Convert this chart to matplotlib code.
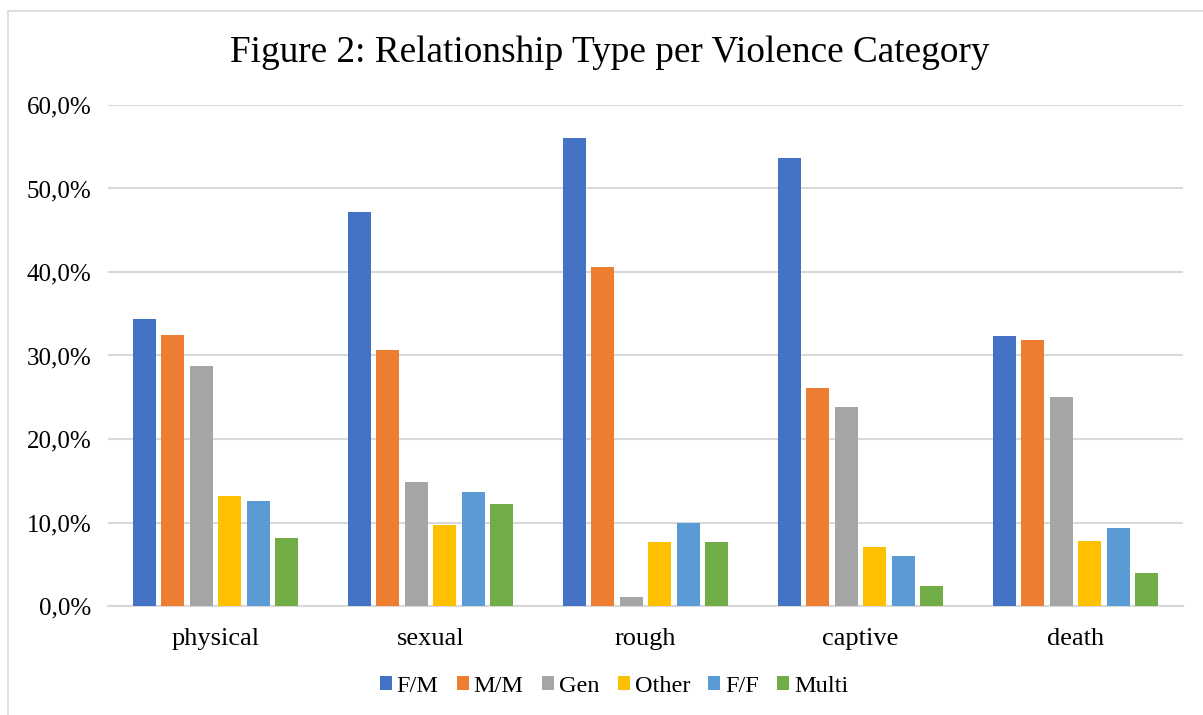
import numpy as np
import matplotlib
matplotlib.use("Agg")
import matplotlib.pyplot as plt
from matplotlib.patches import Rectangle

categories = ["physical", "sexual", "rough", "captive", "death"]
series = ["F/M", "M/M", "Gen", "Other", "F/F", "Multi"]
colors = ["#4472C4", "#ED7D31", "#A5A5A5", "#FFC000", "#5B9BD5", "#70AD47"]

fm = [34.4, 47.2, 56.0, 53.6, 32.3]
mm = [32.4, 30.6, 40.6, 26.1, 31.9]
gen = [28.8, 14.9, 1.1, 23.8, 25.0]
other = [13.2, 9.7, 7.7, 7.1, 7.8]
ff = [12.6, 13.7, 9.9, 6.0, 9.3]
multi = [8.1, 12.2, 7.7, 2.4, 3.9]
values = [fm, mm, gen, other, ff, multi]

yticks = [0, 10, 20, 30, 40, 50, 60]
ytick_labels = ["0,0%", "10,0%", "20,0%", "30,0%", "40,0%", "50,0%", "60,0%"]

W, H = 1203, 715
fig = plt.figure(figsize=(W / 100, H / 100), dpi=100)
plt.rcParams["font.family"] = ["Liberation Serif", "DejaVu Serif"]

# chart area border (cut off at right/bottom like the screenshot)
fig.patches.append(Rectangle((8 / W, -0.01), 1.05, 1 - 11 / H + 0.01,
                             transform=fig.transFigure, fill=False,
                             edgecolor="#d9d9d9", linewidth=1.2))

ax = fig.add_axes([108 / W, 1 - 606 / H, 1075 / W, 501 / H])
x = np.arange(len(categories))
step = 0.1326
width = 0.107
for i, (name, vals) in enumerate(zip(series, values)):
    offs = (i - 2.5) * step
    ax.bar(x + offs, vals, width=width, color=colors[i], label=name, zorder=3)

ax.set_xlim(-0.5, len(categories) - 0.5)
ax.set_ylim(0, 60)
ax.set_yticks(yticks)
ax.set_yticklabels(ytick_labels, fontsize=18)
ax.set_xticks(x)
ax.set_xticklabels(categories, fontsize=19)
ax.tick_params(axis="y", length=0, pad=12)
ax.tick_params(axis="x", length=0, pad=16)
ax.grid(axis="y", color="#d9d9d9", linewidth=1.5, zorder=0)
for s in ["top", "right", "left"]:
    ax.spines[s].set_visible(False)
ax.spines["bottom"].set_color("#d9d9d9")
ax.spines["bottom"].set_linewidth(1.5)

fig.text(610 / W, 1 - 53 / H, "Figure 2: Relationship Type per Violence Category",
         ha="center", va="center", fontsize=26.8)

fig.legend(loc="center", bbox_to_anchor=(614 / W, 1 - 686 / H), ncol=6,
           frameon=False, fontsize=17.5, handlelength=0.5, handleheight=0.5,
           handletextpad=0.2, columnspacing=0.75)

fig.savefig("out.png", dpi=100)
